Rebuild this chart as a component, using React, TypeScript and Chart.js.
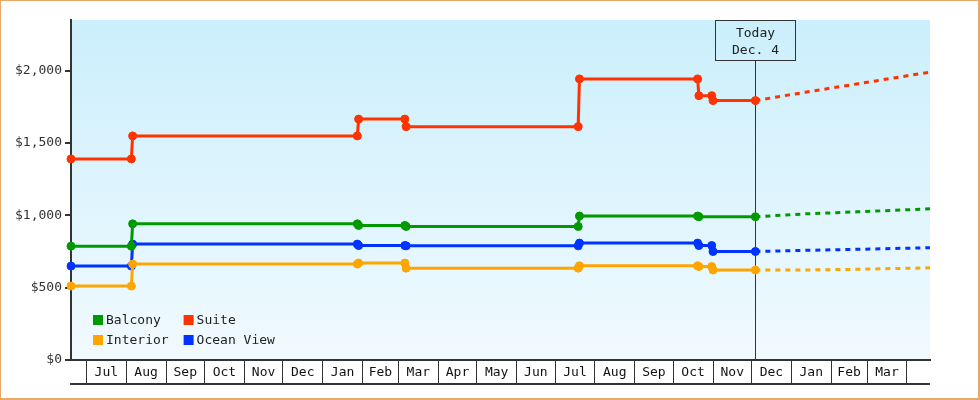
import React, { useEffect, useRef } from 'react';
import { Chart, registerables } from 'chart.js';

Chart.register(...registerables);

// ---- Axis data ----
const MONTH_LABELS = ['Jul', 'Aug', 'Sep', 'Oct', 'Nov', 'Dec', 'Jan', 'Feb', 'Mar', 'Apr', 'May', 'Jun', 'Jul', 'Aug', 'Sep', 'Oct', 'Nov', 'Dec', 'Jan', 'Feb', 'Mar'];
const MONTH_LENGTHS = [31, 31, 30, 31, 30, 31, 31, 28, 31, 30, 31, 30, 31, 31, 30, 31, 30, 31, 31, 28, 31];
// x values are days counted from the first "Jul 1"
const X_MIN = -12;
const X_MAX = 657;
const Y_MAX = 2350;
const Y_TICKS = [0, 500, 1000, 1500, 2000];

// ---- Price history ----
const PRICE_DAYS = [-12, 35, 36, 211, 212, 248, 249, 383, 384, 476, 477, 487, 488, 521];
const BALCONY = [787, 787, 941, 941, 930, 930, 923, 923, 995, 995, 990, null, null, 990];
const SUITE = [1390, 1390, 1549, 1549, 1665, 1665, 1613, 1613, 1943, 1943, 1827, 1827, 1793, 1793];
const INTERIOR = [511, 511, 663, 663, 670, 670, 635, 635, 651, 651, 646, 646, 622, 622];
const OCEAN_VIEW = [649, 649, 801, 801, 791, 791, 789, 789, 808, 808, 791, 791, 750, 750];

// ---- Forecast ----
const FORECAST_DAYS = [521, 560, 600, 657];
const BALCONY_FORECAST = [990, 1010, 1024, 1045];
const SUITE_FORECAST = [1793, 1851, 1908, 1990];
const INTERIOR_FORECAST = [622, 622, 627, 637];
const OCEAN_VIEW_FORECAST = [750, 758, 765, 776];

const TODAY_DAY = 521;
const TODAY_TEXT = ['Today', 'Dec. 4'];

const SERIES_NAMES = ['Balcony', 'Suite', 'Interior', 'Ocean View'];
const SERIES_COLORS = ['#009a00', '#ff3300', '#ffa500', '#0033ff'];

const FONT = '"DejaVu Sans Mono", monospace';

const MONTH_STARTS: number[] = [];
{
  let d = 0;
  for (const len of MONTH_LENGTHS) {
    MONTH_STARTS.push(d);
    d += len;
  }
  MONTH_STARTS.push(d);
}
const MONTH_MIDS = MONTH_LENGTHS.map((len, i) => MONTH_STARTS[i] + len / 2);

const toPoints = (days: number[], vals: (number | null)[]) => days.map((d, i) => ({ x: d, y: vals[i] }));

const backgroundPlugin = {
  id: 'bgGradient',
  beforeDraw(chart: any) {
    const { ctx, chartArea: a, width, height } = chart;
    ctx.save();
    ctx.fillStyle = '#ffffff';
    ctx.fillRect(0, 0, width, height);
    const g = ctx.createLinearGradient(0, a.top, 0, a.bottom);
    g.addColorStop(0, '#cbeffc');
    g.addColorStop(1, '#f1faff');
    ctx.fillStyle = g;
    ctx.fillRect(a.left, a.top, a.right - a.left, a.bottom - a.top);
    ctx.restore();
  },
};

const todayPlugin = {
  id: 'todayMarker',
  beforeDatasetsDraw(chart: any) {
    const { ctx, chartArea: a, scales } = chart;
    const raw = scales.x.getPixelForValue(TODAY_DAY);
    const px = Math.floor(raw) + 0.5;
    const boxW = 80;
    const boxH = 40;
    const top = a.top + 0.5;
    ctx.save();
    ctx.strokeStyle = '#333';
    ctx.lineWidth = 1;
    ctx.strokeRect(Math.floor(raw) - boxW / 2 + 0.5, top, boxW, boxH);
    ctx.beginPath();
    ctx.moveTo(px, top + boxH);
    ctx.lineTo(px, a.bottom);
    ctx.stroke();
    ctx.fillStyle = '#222';
    ctx.font = `13px ${FONT}`;
    ctx.textAlign = 'center';
    ctx.textBaseline = 'alphabetic';
    ctx.fillText(TODAY_TEXT[0], px, a.top + 17);
    ctx.fillText(TODAY_TEXT[1], px, a.top + 34);
    ctx.restore();
  },
};

const framePlugin = {
  id: 'frameAndLegend',
  afterDraw(chart: any) {
    const { ctx, chartArea: a, scales } = chart;
    ctx.save();
    // bottom line of the month table
    ctx.fillStyle = '#333';
    ctx.fillRect(a.left - 1, scales.x.bottom - 2, a.right - a.left + 1, 2);

    // legend in the lower-left corner of the plot
    const items = chart.data.datasets.filter((d: any) => !d.forecast);
    ctx.font = `13px ${FONT}`;
    const cols = 2;
    const box = 10;
    const gap = 3;
    const colGap = 15;
    const rowH = 20;
    const colW: number[] = [];
    items.forEach((d: any, i: number) => {
      const c = i % cols;
      colW[c] = Math.max(colW[c] || 0, ctx.measureText(d.label).width);
    });
    const rows = Math.ceil(items.length / cols);
    const x0 = a.left + 22;
    const y0 = a.bottom - 15 - rows * rowH + (rowH - box);
    items.forEach((d: any, i: number) => {
      const c = i % cols;
      const r = Math.floor(i / cols);
      let x = x0;
      for (let k = 0; k < c; k++) x += box + gap + colW[k] + colGap;
      const y = y0 + r * rowH;
      ctx.fillStyle = d.borderColor;
      ctx.fillRect(x, y, box, box);
      ctx.fillStyle = '#222';
      ctx.textAlign = 'left';
      ctx.textBaseline = 'middle';
      ctx.fillText(d.label, x + box + gap, y + box / 2 + 0.5);
    });
    ctx.restore();
  },
};

export default function App() {
  const canvasRef = useRef<HTMLCanvasElement | null>(null);

  useEffect(() => {
    document.body.style.margin = '0';
    const canvas = canvasRef.current;
    if (!canvas) return;

    const history = [BALCONY, SUITE, INTERIOR, OCEAN_VIEW];
    const forecast = [BALCONY_FORECAST, SUITE_FORECAST, INTERIOR_FORECAST, OCEAN_VIEW_FORECAST];

    const datasets: any[] = [];
    SERIES_NAMES.forEach((name, i) => {
      datasets.push({
        label: name,
        data: toPoints(PRICE_DAYS, history[i]),
        borderColor: SERIES_COLORS[i],
        backgroundColor: SERIES_COLORS[i],
        borderWidth: 3,
        pointRadius: 4,
        pointBorderWidth: 1,
        pointBackgroundColor: SERIES_COLORS[i],
        pointBorderColor: SERIES_COLORS[i],
        tension: 0,
        spanGaps: true,
        clip: false,
      });
    });
    SERIES_NAMES.forEach((name, i) => {
      datasets.push({
        label: name + ' forecast',
        forecast: true,
        data: toPoints(FORECAST_DAYS, forecast[i]),
        borderColor: SERIES_COLORS[i],
        backgroundColor: SERIES_COLORS[i],
        borderWidth: 3,
        borderDash: [5, 5],
        pointRadius: 0,
        tension: 0,
        clip: false,
      });
    });

    const chart = new Chart(canvas, {
      type: 'line',
      data: { datasets },
      options: {
        animation: false,
        responsive: false,
        devicePixelRatio: 1,
        events: [],
        layout: { padding: { left: 0, right: 50, top: 20, bottom: 15 } },
        plugins: {
          legend: { display: false },
          tooltip: { enabled: false },
        },
        scales: {
          x: {
            type: 'linear',
            position: 'bottom',
            min: X_MIN,
            max: X_MAX,
            afterBuildTicks: (scale: any) => {
              scale.ticks = MONTH_STARTS.filter((v) => v >= X_MIN && v <= X_MAX).map((v) => ({ value: v }));
            },
            afterFit: (scale: any) => {
              scale.height = 25;
            },
            ticks: { display: false },
            grid: {
              drawOnChartArea: false,
              drawTicks: true,
              tickLength: 25,
              color: '#333',
              lineWidth: 1,
            },
            border: { display: true, color: '#333', width: 2 },
          },
          xm: {
            type: 'linear',
            axis: 'x',
            position: { y: 0 },
            min: X_MIN,
            max: X_MAX,
            afterBuildTicks: (scale: any) => {
              scale.ticks = MONTH_MIDS.map((v) => ({ value: v }));
            },
            ticks: {
              autoSkip: false,
              maxRotation: 0,
              padding: 5,
              color: '#111',
              font: { family: FONT, size: 13 },
              callback: (_v: any, i: number) => MONTH_LABELS[i],
            },
            grid: { display: false, drawTicks: false },
            border: { display: false },
          },
          y: {
            type: 'linear',
            position: 'left',
            min: 0,
            max: Y_MAX,
            afterBuildTicks: (scale: any) => {
              scale.ticks = Y_TICKS.map((v) => ({ value: v }));
            },
            afterFit: (scale: any) => {
              scale.width = 71;
            },
            ticks: {
              padding: 3,
              color: '#333',
              font: { family: FONT, size: 13 },
              callback: (v: any) => '$' + Number(v).toLocaleString('en-US'),
            },
            grid: {
              drawOnChartArea: false,
              drawTicks: true,
              tickLength: 6,
              color: '#333',
              lineWidth: 2,
            },
            border: { display: true, color: '#333', width: 2 },
          },
        },
      } as any,
      plugins: [backgroundPlugin, todayPlugin, framePlugin],
    });

    return () => chart.destroy();
  }, []);

  return (
    <div style={{ position: 'relative', width: 980, height: 400 }}>
      <canvas ref={canvasRef} width={980} height={400} style={{ display: 'block', width: 980, height: 400 }} />
      <div
        style={{
          position: 'absolute',
          left: 0,
          top: 0,
          width: 980,
          height: 400,
          boxSizing: 'border-box',
          borderStyle: 'solid',
          borderColor: '#e8a868',
          borderWidth: '1px 2px 2px 1px',
          pointerEvents: 'none',
        }}
      />
    </div>
  );
}
